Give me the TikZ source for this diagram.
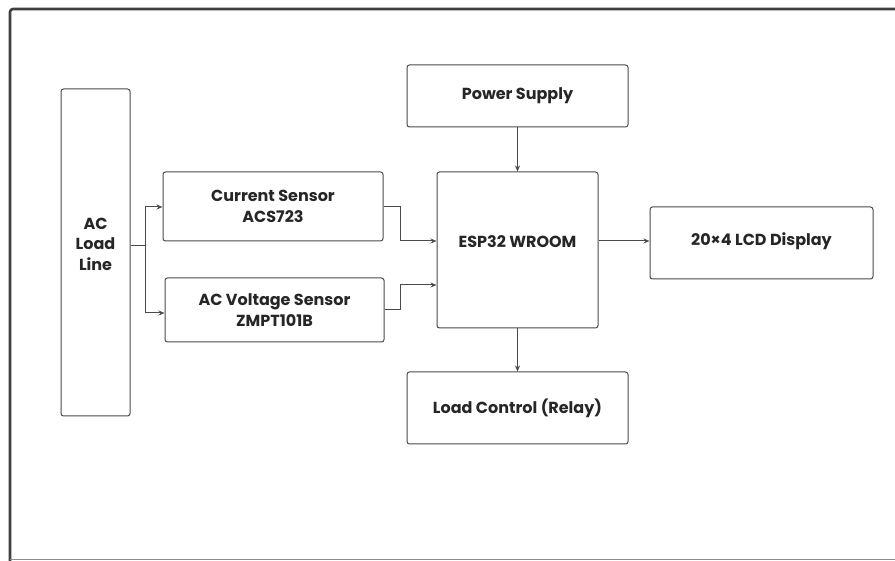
\documentclass[tikz,border=0pt]{standalone}
\usepackage{fontspec}
\setmainfont{Poppins}
\usetikzlibrary{arrows.meta,positioning}
\definecolor{edge}{HTML}{4A4A4A}
\tikzset{
  blk/.style={draw=edge, line width=1pt, rounded corners=2.5pt, fill=white,
    font=\bfseries\fontsize{16}{20.5}\selectfont, text=black!85, align=center, inner sep=0pt},
  lbl/.style={font=\bfseries\fontsize{16}{20.5}\selectfont, text=black!85, align=center, inner sep=0pt},
  conn/.style={draw=edge, line width=1pt, -{Stealth[length=6pt,width=5pt]}},
  plain/.style={draw=edge, line width=1pt}
}
\begin{document}
\begin{tikzpicture}[x=1pt,y=-1pt]
\useasboundingbox (0,0) rectangle (895,561);
\fill[white] (0,0) rectangle (895,561);
% outer frame
\draw[line width=2.6pt, draw=black!75, rounded corners=3pt] (10,562) -- (10,9) -- (900,9);
\draw[line width=1.6pt, draw=black!45] (10,559.5) -- (900,559.5);
% blocks
\node[blk, minimum width=69pt, minimum height=327pt] (ac) at (95.5,252.5) {};
\node[lbl] (actxt) at (95.5,244) {AC\\Load\\Line};
\node[blk, minimum width=220pt, minimum height=69pt] (cs) at (273,206.5) {Current Sensor\\ACS723};
\node[blk, minimum width=219pt, minimum height=64pt] (vs) at (274.5,310) {AC Voltage Sensor\\ZMPT101B};
\node[blk, minimum width=161pt, minimum height=156pt] (esp) at (517.5,250) {};
\node[lbl] (esptxt) at (517.5,242) {ESP32 WROOM};
\node[blk, minimum width=221pt, minimum height=62pt] (ps) at (517.5,96) {Power Supply};
\node[blk, minimum width=221pt, minimum height=72pt] (lc) at (517.5,408) {Load Control (Relay)};
\node[blk, minimum width=223pt, minimum height=72pt] (lcd) at (761.5,243) {};
\node[lbl] (lcdtxt) at (761.5,241) {20×4 LCD Display};
% connectors
\coordinate (split) at (145,246);
\draw[plain] (ac.east |- split) -- (split);
\draw[conn] (split) |- (cs.west |- 0,207);
\draw[conn] (split) |- (vs.west |- 0,313);
\draw[conn] (cs.east |- 0,207) -- (400,207) |- (esp.west |- 0,241);
\draw[conn] (vs.east |- 0,310) -- (400,310) |- (esp.west |- 0,285);
\draw[conn] (esp.east |- 0,241) -- (lcd.west |- 0,241);
\draw[conn] (ps.south) -- (esp.north);
\draw[conn] (esp.south) -- (lc.north);
\end{tikzpicture}
\end{document}
